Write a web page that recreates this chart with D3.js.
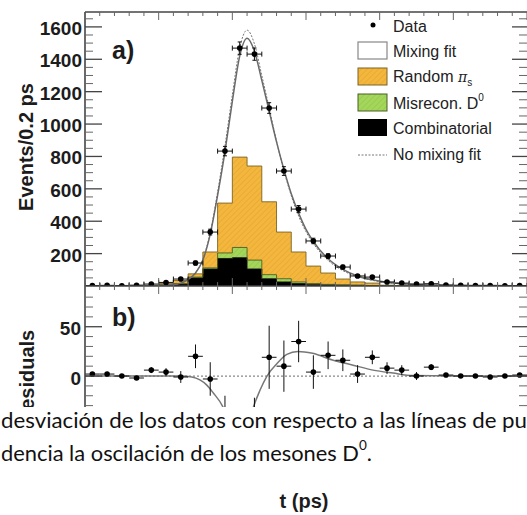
<!DOCTYPE html>
<html>
<head>
<meta charset="utf-8">
<script src="https://cdn.jsdelivr.net/npm/d3@7"></script>
<style>
body { margin: 0; background: #fff; }
svg { display: block; font-family: "Liberation Sans", Arial, sans-serif; }
</style>
</head>
<body>
<div id="chart"></div>
<script>
// bin centres in ps (0.2 ps bins)
var binT = [-1.9,-1.7,-1.5,-1.3,-1.1,-0.9,-0.7,-0.5,-0.3,-0.1,0.1,0.3,0.5,0.7,0.9,1.1,1.3,1.5,1.7,1.9,2.1,2.3,2.5,2.7,2.9,3.1,3.3,3.5,3.7,3.9];

// panel a) data points
var dataCounts = [3,4,2,5,12,22,43,142,333,833,1469,1432,1099,710,475,278,185,117,62,55,25,18,12,14,6,4,3,3,2,3];
var dataErr    = [2,2,2,2,4,5,7,12,18,29,38,38,33,27,22,17,14,11,8,7,5,4,4,4,3,2,2,2,2,2];

// stacked backgrounds
var combinatorial = [0,0,1,1,3,6,12,50,105,170,175,105,45,25,15,10,7,5,4,3,2,2,1,1,1,0,0,0,0,0];
var misrecon      = [0,0,0,0,0,0,2,5,7,34,63,55,25,20,10,5,3,2,1,0,0,0,0,0,0,0,0,0,0,0];
var randomPi      = [0,0,0,0,0,9,20,20,98,308,558,581,450,288,185,108,70,36,20,15,3,0,0,0,0,0,0,0,0,0];

// fit curves
var fitT        = [-2.0,-1.0,-0.8,-0.7,-0.6,-0.5,-0.4,-0.3,-0.2,-0.1,0.0,0.1,0.2,0.3,0.4,0.5,0.6,0.7,0.8,0.9,1.0,1.1,1.3,1.5,1.7,1.9,2.1,2.4,2.8,3.2,4.0];
var mixingFit   = [2,3,8,18,40,80,160,320,560,830,1140,1420,1530,1450,1270,1080,890,720,570,450,350,275,168,103,62,38,23,11,5,3,2];
var noMixingFit = [2,3,8,18,40,82,165,330,580,865,1180,1470,1580,1495,1300,1100,895,712,558,432,335,262,158,95,58,35,21,10,5,3,2];

// panel b) residuals
var residuals = [2,2,0,-2,6,4,-1,20,-3,-45,-100,-65,19,10,35,4,21,16,2,19,8,6,0,9,1,0,0,-1,0,1];
var residErr  = [2,2,2,2,3,4,6,12,17,25,40,43,32,26,21,17,14,11,9,7,6,5,4,3,2,2,2,2,2,2];
var residFitT = [-2.0,-1.0,-0.7,-0.55,-0.44,-0.35,-0.26,-0.13,0.0,0.1,0.2,0.28,0.375,0.47,0.61,0.74,0.89,1.09,1.37,1.64,1.91,2.18,2.45,3.0,4.0];
var residFit  = [0,0,0,-1,-4,-9,-17,-31,-58,-72,-56,-33,-14.5,0,13,22,25,23,16,11,6,3,0.5,0,0];

var yTicksA = [200,400,600,800,1000,1200,1400,1600];
var yTicksB = [0,50];

var W = 527, H = 515;
var svg = d3.select("#chart").append("svg").attr("width", W).attr("height", H);

var x  = d3.scaleLinear().domain([-2, 4]).range([85, 527]);
var yA = d3.scaleLinear().domain([0, 1692]).range([286, 12]);
var yB = d3.scaleLinear().domain([91.3, -95.3]).range([286, 470]);
var xR = 528; // right frame sits just outside the crop

var defs = svg.append("defs");
function hatch(id, base, stripe) {
  var p = defs.append("pattern").attr("id", id).attr("patternUnits", "userSpaceOnUse")
    .attr("width", 4).attr("height", 4).attr("patternTransform", "rotate(45)");
  p.append("rect").attr("width", 4).attr("height", 4).attr("fill", base);
  p.append("line").attr("x1", 0).attr("y1", 0).attr("x2", 0).attr("y2", 4)
    .attr("stroke", stripe).attr("stroke-width", 1.2);
}
hatch("hatchO", "#F3B73E", "#E6A22E");
hatch("hatchG", "#A4D65C", "#8CC646");
defs.append("clipPath").attr("id", "clipA").append("rect")
  .attr("x", 85).attr("y", 12).attr("width", 443).attr("height", 274);
defs.append("clipPath").attr("id", "clipB").append("rect")
  .attr("x", 85).attr("y", 286).attr("width", 443).attr("height", 184);

// ---------- panel a ----------
var gA = svg.append("g").attr("clip-path", "url(#clipA)");

var rows = binT.map(function(t, i) {
  return {t: t, comb: combinatorial[i], mis: misrecon[i], rand: randomPi[i]};
});
var layers = d3.stack().keys(["comb", "mis", "rand"])(rows);
var fills = {comb: "#000", mis: "url(#hatchG)", rand: "url(#hatchO)"};
var edges = {comb: "#111", mis: "#4b5e22", rand: "#7a6422"};

function steps(layer) {
  var pts = [];
  layer.forEach(function(d) {
    pts.push({t: d.data.t - 0.1, y0: d[0], y1: d[1]});
    pts.push({t: d.data.t + 0.1, y0: d[0], y1: d[1]});
  });
  return pts;
}
var area = d3.area().x(d => x(d.t)).y0(d => yA(d.y0)).y1(d => yA(d.y1));
var topLine = d3.line().x(d => x(d.t)).y(d => yA(d.y1));

layers.forEach(function(l) {
  gA.append("path").attr("d", area(steps(l))).attr("fill", fills[l.key]);
});
layers.forEach(function(l) {
  gA.append("path").attr("d", topLine(steps(l))).attr("fill", "none")
    .attr("stroke", edges[l.key]).attr("stroke-width", 0.9);
});

var fitLineA = d3.line().x(d => x(d[0])).y(d => yA(d[1])).curve(d3.curveMonotoneX);
gA.append("path").attr("d", fitLineA(d3.zip(fitT, noMixingFit)))
  .attr("fill", "none").attr("stroke", "#777").attr("stroke-width", 1).attr("stroke-dasharray", "2,1.5");
gA.append("path").attr("d", fitLineA(d3.zip(fitT, mixingFit)))
  .attr("fill", "none").attr("stroke", "#6a6a6a").attr("stroke-width", 1.5);

function errorBars(g, ys, vals, errs, caps) {
  binT.forEach(function(t, i) {
    var cx = x(t), cy = ys(vals[i]);
    var x0 = x(t - 0.1), x1 = x(t + 0.1);
    var yl = ys(vals[i] - errs[i]), yh = ys(vals[i] + errs[i]);
    g.append("line").attr("x1", x0).attr("x2", x1).attr("y1", cy).attr("y2", cy)
      .attr("stroke", "#111").attr("stroke-width", 1);
    g.append("line").attr("x1", cx).attr("x2", cx).attr("y1", yl).attr("y2", yh)
      .attr("stroke", "#111").attr("stroke-width", 1);
    if (caps) {
      [x0, x1].forEach(function(xx) {
        g.append("line").attr("x1", xx).attr("x2", xx).attr("y1", cy - 2.5).attr("y2", cy + 2.5)
          .attr("stroke", "#111").attr("stroke-width", 1);
      });
      [yl, yh].forEach(function(yy) {
        g.append("line").attr("x1", cx - 2).attr("x2", cx + 2).attr("y1", yy).attr("y2", yy)
          .attr("stroke", "#111").attr("stroke-width", 1);
      });
    }
    g.append("circle").attr("cx", cx).attr("cy", cy).attr("r", 2.8).attr("fill", "#000");
  });
}
errorBars(gA, yA, dataCounts, dataErr, true);

// ---------- panel b ----------
var gB = svg.append("g").attr("clip-path", "url(#clipB)");
gB.append("line").attr("x1", 85).attr("x2", xR).attr("y1", yB(0)).attr("y2", yB(0))
  .attr("stroke", "#888").attr("stroke-width", 1.3).attr("stroke-dasharray", "2,2");
var fitLineB = d3.line().x(d => x(d[0])).y(d => yB(d[1])).curve(d3.curveMonotoneX);
gB.append("path").attr("d", fitLineB(d3.zip(residFitT, residFit)))
  .attr("fill", "none").attr("stroke", "#777").attr("stroke-width", 1.5);
errorBars(gB, yB, residuals, residErr, false);

// ---------- frame and ticks ----------
var axisCol = "#444", tickCol = "#666";
var frame = svg.append("g");
frame.append("line").attr("x1", 85).attr("x2", 85).attr("y1", 12).attr("y2", 470).attr("stroke", axisCol).attr("stroke-width", 1.6);
frame.append("line").attr("x1", 85).attr("x2", xR).attr("y1", 12).attr("y2", 12).attr("stroke", axisCol).attr("stroke-width", 1.5);
frame.append("line").attr("x1", xR).attr("x2", xR).attr("y1", 12).attr("y2", 470).attr("stroke", axisCol).attr("stroke-width", 1.5);
frame.append("line").attr("x1", 85).attr("x2", xR).attr("y1", 286).attr("y2", 286).attr("stroke", axisCol).attr("stroke-width", 1.3);

// x ticks (every 0.2 ps, long at whole ps)
d3.range(-20, 41, 2).forEach(function(k) {
  var t = k / 10, xx = x(t), major = (k % 10 === 0);
  var L = major ? 8 : 4;
  frame.append("line").attr("x1", xx).attr("x2", xx).attr("y1", 12).attr("y2", 12 + L).attr("stroke", tickCol);
  frame.append("line").attr("x1", xx).attr("x2", xx).attr("y1", 286 - L).attr("y2", 286 + L).attr("stroke", tickCol);
});

function yTicks(scale, lo, hi, step, majors) {
  d3.range(lo, hi + 0.001, step).forEach(function(v) {
    var yy = scale(v), major = majors.indexOf(v) >= 0;
    frame.append("line").attr("x1", 85).attr("x2", 85 + (major ? 17 : 8)).attr("y1", yy).attr("y2", yy)
      .attr("stroke", major ? axisCol : tickCol).attr("stroke-width", major ? 1.3 : 1);
    frame.append("line").attr("x1", xR - (major ? 16 : 9)).attr("x2", xR).attr("y1", yy).attr("y2", yy)
      .attr("stroke", major ? axisCol : tickCol).attr("stroke-width", major ? 1.3 : 1);
  });
}
yTicks(yA, 50, 1650, 50, yTicksA);
yTicks(yB, -90, 80, 10, yTicksB.concat([-50]));

frame.selectAll("text.ta").data(yTicksA).enter().append("text")
  .attr("x", 82).attr("y", d => yA(d) + 8).attr("text-anchor", "end")
  .attr("font-size", 19).attr("font-weight", "bold").attr("fill", "#1c1c1c").text(d => d);
frame.selectAll("text.tb").data(yTicksB).enter().append("text")
  .attr("x", 81).attr("y", d => yB(d) + 8.5).attr("text-anchor", "end")
  .attr("font-size", 19).attr("font-weight", "bold").attr("fill", "#1c1c1c").text(d => d);

svg.append("text").attr("transform", "translate(33,147) rotate(-90)").attr("text-anchor", "middle")
  .attr("font-size", 20).attr("font-weight", "bold").attr("fill", "#1c1c1c").text("Events/0.2 ps");
svg.append("text").attr("transform", "translate(34,377) rotate(-90)").attr("text-anchor", "middle")
  .attr("font-size", 20).attr("font-weight", "bold").attr("fill", "#1c1c1c").text("Residuals");

svg.append("text").attr("x", 112).attr("y", 59).attr("font-size", 25).attr("font-weight", "bold").attr("fill", "#1c1c1c").text("a)");
svg.append("text").attr("x", 112).attr("y", 326).attr("font-size", 25).attr("font-weight", "bold").attr("fill", "#1c1c1c").text("b)");

// ---------- legend ----------
var leg = svg.append("g").attr("font-size", 16).attr("fill", "#222");
leg.append("circle").attr("cx", 373).attr("cy", 25).attr("r", 2.5).attr("fill", "#000");
leg.append("text").attr("x", 393).attr("y", 32).text("Data");
leg.append("rect").attr("x", 358).attr("y", 42).attr("width", 29).attr("height", 17).attr("fill", "#fff").attr("stroke", "#888").attr("stroke-width", 1.2);
leg.append("text").attr("x", 393).attr("y", 57).text("Mixing fit");
leg.append("rect").attr("x", 358).attr("y", 68).attr("width", 29).attr("height", 17).attr("fill", "url(#hatchO)").attr("stroke", "#7a6422").attr("stroke-width", 1);
var tr = leg.append("text").attr("x", 393).attr("y", 82);
tr.append("tspan").text("Random ");
tr.append("tspan").attr("font-family", "DejaVu Serif").attr("font-style", "italic").attr("font-size", 14).text("π");
tr.append("tspan").attr("font-size", 10).attr("dy", 4).text("s");
leg.append("rect").attr("x", 358).attr("y", 94).attr("width", 29).attr("height", 17).attr("fill", "url(#hatchG)").attr("stroke", "#4b5e22").attr("stroke-width", 1);
var tm = leg.append("text").attr("x", 393).attr("y", 109);
tm.append("tspan").text("Misrecon. D");
tm.append("tspan").attr("font-size", 10).attr("dy", -8).text("0");
leg.append("rect").attr("x", 358).attr("y", 119).attr("width", 29).attr("height", 17).attr("fill", "#000");
leg.append("text").attr("x", 393).attr("y", 134).text("Combinatorial");
leg.append("line").attr("x1", 358).attr("x2", 387).attr("y1", 155).attr("y2", 155).attr("stroke", "#777").attr("stroke-width", 1).attr("stroke-dasharray", "2,1.5");
leg.append("text").attr("x", 393).attr("y", 160).text("No mixing fit");

// ---------- caption overlay ----------
svg.append("rect").attr("x", 0).attr("y", 407).attr("width", W).attr("height", H - 407).attr("fill", "#fff");
var cap = svg.append("g").attr("font-family", "Lato, 'Open Sans', sans-serif").attr("font-size", 21).attr("fill", "#111");
cap.append("text").attr("x", 1).attr("y", 428).attr("textLength", 526).attr("lengthAdjust", "spacingAndGlyphs")
  .text("desviación de los datos con respecto a las líneas de pu");
var l2 = cap.append("text").attr("x", 1).attr("y", 461).attr("textLength", 371).attr("lengthAdjust", "spacingAndGlyphs");
l2.append("tspan").text("dencia la oscilación de los mesones D");
l2.append("tspan").attr("font-size", 13).attr("dy", -11).text("0");
l2.append("tspan").attr("dy", 11).text(".");

svg.append("text").attr("x", 304).attr("y", 508).attr("text-anchor", "middle")
  .attr("font-size", 20).attr("font-weight", "bold").attr("fill", "#1c1c1c").text("t (ps)");
</script>
</body>
</html>
